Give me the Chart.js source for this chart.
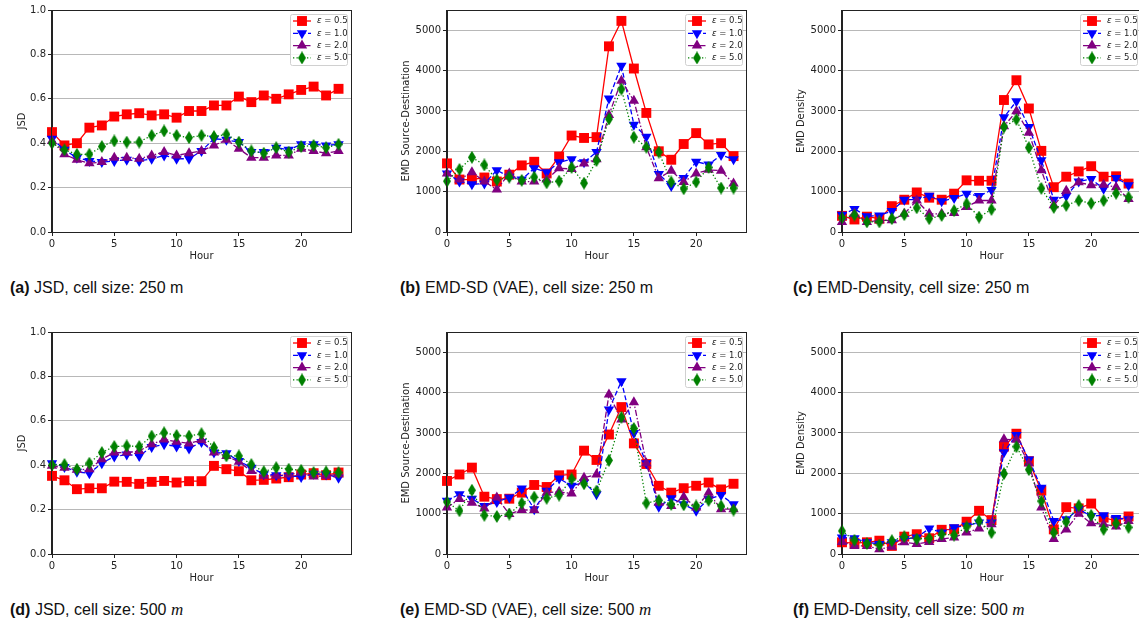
<!DOCTYPE html>
<html>
<head>
<meta charset="utf-8">
<script src="https://cdn.jsdelivr.net/npm/chart.js@4/dist/chart.umd.min.js"></script>
<style>
  html, body { margin: 0; padding: 0; background: #fff; width: 1139px; height: 627px; overflow: hidden; }
  canvas { position: absolute; }
  .cap { position: absolute; font-family: "Liberation Sans", Arial, sans-serif; font-size: 16px; color: #111; white-space: nowrap; }
  .cap i { font-family: "Liberation Serif", serif; font-size: 17px; }
</style>
</head>
<body>
<canvas id="cA" width="359" height="262" style="left:0px;top:0px"></canvas>
<canvas id="cB" width="359" height="262" style="left:395px;top:0px"></canvas>
<canvas id="cC" width="359" height="262" style="left:790px;top:0px"></canvas>
<canvas id="cD" width="359" height="262" style="left:0px;top:322px"></canvas>
<canvas id="cE" width="359" height="262" style="left:395px;top:322px"></canvas>
<canvas id="cF" width="359" height="262" style="left:790px;top:322px"></canvas>

<div class="cap" style="left:10px;top:279px"><b>(a)</b> JSD, cell size: 250 m</div>
<div class="cap" style="left:400px;top:279px"><b>(b)</b> EMD-SD (VAE), cell size: 250 m</div>
<div class="cap" style="left:793px;top:279px"><b>(c)</b> EMD-Density, cell size: 250 m</div>
<div class="cap" style="left:10px;top:600px"><b>(d)</b> JSD, cell size: 500 <i>m</i></div>
<div class="cap" style="left:400px;top:600px"><b>(e)</b> EMD-SD (VAE), cell size: 500 <i>m</i></div>
<div class="cap" style="left:793px;top:600px"><b>(f)</b> EMD-Density, cell size: 500 <i>m</i></div>

<script>
// hours and tick labels
const hours = [0,1,2,3,4,5,6,7,8,9,10,11,12,13,14,15,16,17,18,19,20,21,22,23];
const hourTicks = [0, 5, 10, 15, 20];
const jsdTicks = [0, 0.2, 0.4, 0.6, 0.8, 1.0];
const emdTicks = [0, 1000, 2000, 3000, 4000, 5000];
const epsilons = ['0.5', '1.0', '2.0', '5.0'];

// (a) JSD, 250 m
const jsd250_05 = [0.45,0.39,0.40,0.47,0.48,0.52,0.53,0.535,0.525,0.53,0.515,0.545,0.545,0.57,0.57,0.61,0.585,0.615,0.60,0.62,0.64,0.655,0.615,0.645];
const jsd250_10 = [0.42,0.37,0.335,0.32,0.315,0.32,0.325,0.32,0.33,0.345,0.33,0.33,0.365,0.42,0.415,0.405,0.36,0.36,0.38,0.37,0.395,0.395,0.39,0.395];
const jsd250_20 = [0.41,0.35,0.325,0.31,0.315,0.335,0.335,0.33,0.345,0.36,0.345,0.355,0.365,0.39,0.415,0.375,0.335,0.335,0.345,0.345,0.375,0.365,0.355,0.365];
const jsd250_50 = [0.40,0.37,0.35,0.35,0.385,0.41,0.405,0.405,0.435,0.455,0.435,0.425,0.435,0.43,0.44,0.405,0.365,0.355,0.38,0.36,0.385,0.39,0.38,0.395];

// (b) EMD source-destination, 250 m
const sd250_05 = [1700,1300,1300,1350,1250,1420,1650,1740,1450,1870,2390,2330,2350,4600,5230,4050,2950,2000,1790,2180,2450,2170,2200,1880];
const sd250_10 = [1450,1250,1180,1200,1530,1370,1300,1580,1480,1730,1800,1730,1980,3310,4120,2660,2360,1440,1140,1340,1740,1670,1910,1800];
const sd250_20 = [1450,1300,1480,1250,1050,1450,1250,1250,1300,1580,1560,1700,1800,2900,3750,3250,2100,1330,1520,1240,1450,1540,1520,1200];
const sd250_50 = [1260,1550,1850,1660,1290,1360,1280,1360,1220,1260,1600,1210,1770,2800,3540,2350,2100,1980,1240,1070,1240,1600,1090,1090];

// (c) EMD density, 250 m
const den250_05 = [400,310,380,330,640,800,980,850,800,950,1280,1270,1270,3270,3760,3060,2010,1110,1370,1500,1630,1370,1380,1200];
const den250_10 = [430,570,390,410,520,800,800,900,760,840,950,890,1040,2840,3240,2600,1780,800,890,1250,1310,1070,1340,1160];
const den250_20 = [250,450,250,290,290,450,780,450,450,470,620,780,780,2620,2990,2460,1530,660,1020,1230,1160,1170,1110,820];
const den250_50 = [350,420,250,250,330,430,600,330,410,530,700,370,560,2600,2790,2090,1080,610,660,780,710,780,960,860];

// (d) JSD, 500 m
const jsd500_05 = [0.352,0.332,0.292,0.296,0.296,0.326,0.325,0.316,0.325,0.329,0.322,0.328,0.328,0.397,0.382,0.373,0.332,0.334,0.34,0.346,0.358,0.364,0.355,0.367];
const jsd500_10 = [0.409,0.392,0.37,0.364,0.409,0.439,0.448,0.442,0.482,0.494,0.484,0.475,0.505,0.457,0.454,0.419,0.389,0.359,0.355,0.352,0.347,0.361,0.358,0.344];
const jsd500_20 = [0.397,0.388,0.379,0.382,0.427,0.457,0.457,0.464,0.494,0.516,0.506,0.498,0.513,0.457,0.442,0.415,0.374,0.352,0.352,0.358,0.367,0.349,0.352,0.359];
const jsd500_50 = [0.401,0.403,0.382,0.409,0.457,0.484,0.487,0.484,0.531,0.546,0.534,0.531,0.542,0.479,0.442,0.442,0.403,0.371,0.389,0.382,0.377,0.367,0.37,0.367];

// (e) EMD source-destination, 500 m
const sd500_05 = [1810,1970,2140,1420,1360,1370,1520,1710,1660,1950,1970,2560,2330,2960,3640,2740,2230,1690,1520,1630,1690,1770,1600,1740];
const sd500_10 = [1320,1480,1370,1190,1290,1400,1620,1110,1570,1870,1690,1770,1480,3580,4280,3000,2250,1170,1380,1230,1070,1360,1460,1230];
const sd500_20 = [1150,1360,1270,1130,1400,990,1090,1090,1520,1540,1500,1890,1970,3950,3330,3760,2250,1270,1190,1410,1150,1520,1110,1110];
const sd500_50 = [1290,1070,1580,960,930,990,1260,1410,1380,1460,1860,1740,1560,2320,3390,3110,1260,1330,1230,1220,1190,1330,1190,1090];

// (f) EMD density, 500 m
const den500_05 = [290,270,290,330,200,430,490,390,600,610,800,1070,840,2660,2980,2300,1570,610,1160,1130,1250,900,820,930];
const den500_10 = [410,390,290,250,290,370,410,630,530,660,700,780,780,2520,2950,2340,1640,820,860,1110,940,960,890,860];
const den500_20 = [300,200,200,120,180,290,250,300,370,410,530,630,740,2840,2830,2240,1150,370,610,1000,760,740,680,820];
const den500_50 = [570,340,260,220,330,430,370,390,490,470,670,820,530,1990,2660,2090,1310,530,800,1200,960,610,760,660];

const TXT = '#222';
const FONT = 'DejaVu Sans';

// matplotlib-like thin diamond marker
function thinDiamond(color) {
  const c = document.createElement('canvas');
  c.width = 8; c.height = 13;
  const g = c.getContext('2d');
  g.fillStyle = color;
  g.beginPath();
  g.moveTo(4, 0); g.lineTo(8, 6.5); g.lineTo(4, 13); g.lineTo(0, 6.5);
  g.closePath();
  g.fill();
  return c;
}

const styles = [
  { color: '#ff0000', dash: [], point: 'rect', rot: 0, radius: 7 },
  { color: '#0000ff', dash: [5, 2.5], point: 'triangle', rot: 180, radius: 6 },
  { color: '#800080', dash: [6, 2, 1.5, 2], point: 'triangle', rot: 0, radius: 6 },
  { color: '#008000', dash: [1.3, 2.2], point: thinDiamond('#008000'), rot: 0, radius: 6 }
];

// box around the plot area
const framePlugin = {
  id: 'frame',
  afterDatasetsDraw(chart) {
    const a = chart.chartArea, ctx = chart.ctx;
    ctx.save();
    ctx.strokeStyle = TXT;
    ctx.lineWidth = 1;
    ctx.strokeRect(Math.round(a.left) - 0.5, Math.round(a.top) + 0.5,
                   Math.round(a.right - a.left) + 1, Math.round(a.bottom - a.top));
    ctx.restore();
  }
};

// legend in the upper right, line sample with marker through it
const epsLegend = {
  id: 'epsLegend',
  afterDraw(chart) {
    const a = chart.chartArea, ctx = chart.ctx;
    const w = 57, h = 51;
    const x0 = a.right - 4 - w, y0 = a.top + 4;
    ctx.save();
    ctx.beginPath();
    ctx.roundRect(x0 + 0.5, y0 + 0.5, w, h, 2);
    ctx.fillStyle = 'rgba(255,255,255,0.85)';
    ctx.fill();
    ctx.strokeStyle = '#d0d0d0';
    ctx.lineWidth = 1;
    ctx.stroke();
    chart.data.datasets.forEach((d, i) => {
      const y = y0 + 7 + i * 12.3;
      ctx.strokeStyle = d.borderColor;
      ctx.lineWidth = 1.3;
      ctx.setLineDash(d.borderDash);
      ctx.beginPath();
      ctx.moveTo(x0 + 3, y);
      ctx.lineTo(x0 + 21, y);
      ctx.stroke();
      ctx.setLineDash([]);
      ctx.fillStyle = d.backgroundColor;
      Chart.helpers.drawPoint(ctx, { pointStyle: d.pointStyle, rotation: d.pointRotation, radius: d.pointRadius, borderWidth: 0 }, x0 + 12, y);
      ctx.fillStyle = TXT;
      ctx.textBaseline = 'middle';
      ctx.textAlign = 'left';
      ctx.font = 'italic 8.5px "' + FONT + '"';
      ctx.fillText('ε', x0 + 27, y);
      const ew = ctx.measureText('ε').width;
      ctx.font = '8.5px "' + FONT + '"';
      ctx.fillText(' = ' + epsilons[i], x0 + 27 + ew, y);
    });
    ctx.restore();
  }
};

function makeChart(id, values, yTitle, titlePad, yMax, yTicks, fmt) {
  const datasets = values.map((vals, i) => ({
    label: 'ε = ' + epsilons[i],
    data: hours.map((h, k) => ({ x: h, y: vals[k] })),
    borderColor: styles[i].color,
    backgroundColor: styles[i].color,
    borderWidth: 1.3,
    borderDash: styles[i].dash,
    pointStyle: styles[i].point,
    pointRotation: styles[i].rot,
    pointRadius: styles[i].radius,
    pointBorderWidth: 0,
    order: 3 - i,
    clip: false,
    tension: 0,
    fill: false
  }));

  new Chart(document.getElementById(id), {
    type: 'line',
    data: { datasets },
    options: {
      responsive: false,
      animation: false,
      events: [],
      layout: { padding: { top: 10, right: 8, left: 0, bottom: 0 } },
      plugins: { legend: { display: false }, tooltip: { enabled: false } },
      scales: {
        x: {
          type: 'linear', min: 0, max: 24,
          afterFit: s => { s.height = 30; },
          afterBuildTicks: s => { s.ticks = hourTicks.map(v => ({ value: v })); },
          grid: { drawOnChartArea: false, color: TXT, tickColor: TXT, tickLength: 4 },
          border: { color: TXT, width: 1 },
          ticks: { padding: 2, color: TXT, maxRotation: 0, font: { family: FONT, size: 10 } },
          title: { display: true, text: 'Hour', color: TXT, padding: 0, font: { family: FONT, size: 10 } }
        },
        y: {
          min: 0, max: yMax,
          afterFit: s => { s.width = 52; },
          afterBuildTicks: s => { s.ticks = yTicks.map(v => ({ value: v })); },
          grid: { color: '#b8b8b8', tickColor: TXT, tickLength: 4, lineWidth: 1 },
          border: { color: TXT, width: 1 },
          ticks: { padding: 2, color: TXT, callback: fmt, font: { family: FONT, size: 10 } },
          title: { display: true, text: yTitle, color: TXT, padding: { top: titlePad, bottom: 0 }, font: { family: FONT, size: 10 } }
        }
      }
    },
    plugins: [framePlugin, epsLegend]
  });
}

const fmtJsd = v => Number(v).toFixed(1);
const fmtEmd = v => String(v);

makeChart('cA', [jsd250_05, jsd250_10, jsd250_20, jsd250_50], 'JSD', 16, 1.0, jsdTicks, fmtJsd);
makeChart('cB', [sd250_05, sd250_10, sd250_20, sd250_50], 'EMD Source-Destination', 5, 5500, emdTicks, fmtEmd);
makeChart('cC', [den250_05, den250_10, den250_20, den250_50], 'EMD Density', 5, 5500, emdTicks, fmtEmd);
makeChart('cD', [jsd500_05, jsd500_10, jsd500_20, jsd500_50], 'JSD', 16, 1.0, jsdTicks, fmtJsd);
makeChart('cE', [sd500_05, sd500_10, sd500_20, sd500_50], 'EMD Source-Destination', 5, 5500, emdTicks, fmtEmd);
makeChart('cF', [den500_05, den500_10, den500_20, den500_50], 'EMD Density', 5, 5500, emdTicks, fmtEmd);
</script>
</body>
</html>
